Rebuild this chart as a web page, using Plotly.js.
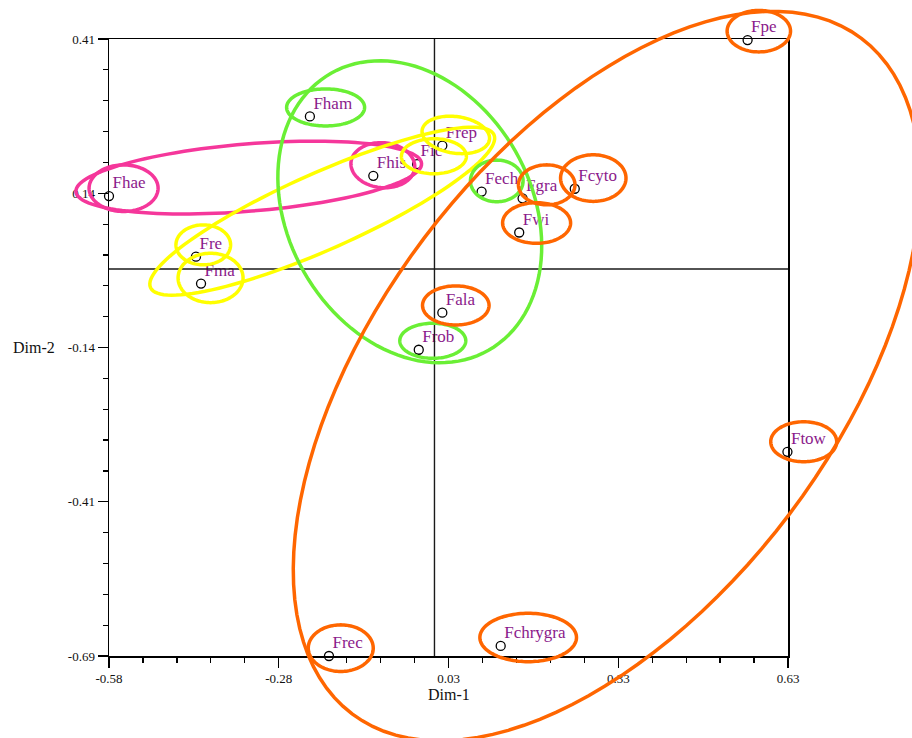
<!DOCTYPE html>
<html>
<head>
<meta charset="utf-8">
<script src="https://cdn.plot.ly/plotly-3.0.1.min.js"></script>
<style>
  html, body { margin: 0; padding: 0; background: #ffffff; }
  #chart { width: 912px; height: 738px; }
</style>
</head>
<body>
<div id="chart"></div>
<script>
// Taxa coordinates on the first two dimensions
const taxa = ['Fpe', 'Fham', 'Frep', 'Fic', 'Fhis', 'Fhae', 'Fech', 'Fgra', 'Fcyto',
              'Fwi', 'Fre', 'Fma', 'Fala', 'Frob', 'Ftow', 'Frec', 'Fchrygra'];
const dim1 = [0.558, -0.222, 0.014, -0.031, -0.109, -0.580, 0.084, 0.157, 0.250,
              0.151, -0.425, -0.416, 0.014, -0.028, 0.629, -0.188, 0.118];
const dim2 = [0.408, 0.272, 0.220, 0.187, 0.166, 0.130, 0.138, 0.126, 0.143,
              0.065, 0.022, -0.026, -0.078, -0.144, -0.326, -0.690, -0.672];

// Axis ticks
const xTickVals = [-0.58, -0.2775, 0.025, 0.3275, 0.63];
const xTickText = ['-0.58', '-0.28', '0.03', '0.33', '0.63'];
const yTickVals = [-0.69, -0.415, -0.14, 0.135, 0.41];
const yTickText = ['-0.69', '-0.41', '-0.14', '0.14', '0.41'];

// Group outlines: [centre dim1, centre dim2, semi-axis a, semi-axis b, angle in degrees]
const orangeRings = [
  [0.307, -0.191, 0.754, 0.408, 53],
  [0.578, 0.424, 0.0565, 0.037, 0],
  [0.283, 0.162, 0.0583, 0.0415, 0],
  [0.200, 0.150, 0.0504, 0.0356, 0],
  [0.182, 0.082, 0.0606, 0.0362, 0],
  [0.038, -0.065, 0.0593, 0.0348, 0],
  [0.658, -0.308, 0.0588, 0.0356, 0],
  [-0.167, -0.676, 0.0579, 0.0415, 0],
  [0.167, -0.657, 0.0861, 0.0431, 0]
];
const greenRings = [
  [-0.044, 0.102, 0.284, 0.217, 119.6],
  [-0.194, 0.288, 0.0695, 0.033, 0],
  [0.111, 0.157, 0.0469, 0.0371, 0],
  [-0.003, -0.128, 0.0588, 0.0312, 0]
];
const yellowRings = [
  [-0.200, 0.103, 0.335, 0.068, 24],
  [0.038, 0.239, 0.0606, 0.0326, -8],
  [-0.001, 0.201, 0.0579, 0.0312, 0],
  [-0.412, 0.043, 0.0487, 0.0356, 0],
  [-0.399, -0.016, 0.0579, 0.044, 0]
];
const pinkRings = [
  [-0.331, 0.163, 0.309, 0.060, 4.7],
  [-0.554, 0.144, 0.0615, 0.0415, 0],
  [-0.092, 0.185, 0.057, 0.040, -5]
];

const X_RANGE = [-0.58, 0.63];
const Y_RANGE = [-0.69, 0.41];
const SERIF = '"Liberation Serif", "Times New Roman", serif';

// Convert data units to paper units so outlines may extend past the frame
function toPaperX(v) { return (v - X_RANGE[0]) / (X_RANGE[1] - X_RANGE[0]); }
function toPaperY(v) { return (v - Y_RANGE[0]) / (Y_RANGE[1] - Y_RANGE[0]); }

function ringShape(r, color) {
  const [cx, cy, a, b, ang] = r;
  const t = ang * Math.PI / 180;
  const steps = 120;
  let d = '';
  for (let i = 0; i <= steps; i++) {
    const u = 2 * Math.PI * i / steps;
    const ex = a * Math.cos(u), ey = b * Math.sin(u);
    const x = cx + ex * Math.cos(t) - ey * Math.sin(t);
    const y = cy + ex * Math.sin(t) + ey * Math.cos(t);
    d += (i === 0 ? 'M' : 'L') + toPaperX(x).toFixed(5) + ',' + toPaperY(y).toFixed(5);
  }
  d += 'Z';
  return {
    type: 'path', xref: 'paper', yref: 'paper', path: d, layer: 'above',
    line: { color: color, width: 3.5 }, fillcolor: 'rgba(0,0,0,0)'
  };
}

const shapes = [
  // zero lines
  { type: 'line', xref: 'x', yref: 'paper', x0: 0, x1: 0, y0: 0, y1: 1, layer: 'above',
    line: { color: '#1a1a1a', width: 1.4 } },
  { type: 'line', xref: 'paper', yref: 'y', x0: 0, x1: 1, y0: 0, y1: 0, layer: 'above',
    line: { color: '#1a1a1a', width: 1.4 } }
];
pinkRings.forEach(r => shapes.push(ringShape(r, '#f5379b')));
yellowRings.forEach(r => shapes.push(ringShape(r, '#ffff00')));
greenRings.forEach(r => shapes.push(ringShape(r, '#6aef35')));
orangeRings.forEach(r => shapes.push(ringShape(r, '#ff6600')));

// Open circle at each taxon
const points = {
  type: 'scatter',
  mode: 'markers',
  x: dim1,
  y: dim2,
  marker: { size: 9, color: '#ffffff', line: { color: '#000000', width: 1.3 } },
  cliponaxis: false,
  hoverinfo: 'skip'
};

// Taxon names, set just above and right of each circle
const labels = {
  type: 'scatter',
  mode: 'markers+text',
  x: dim1,
  y: dim2,
  text: taxa,
  textposition: 'top right',
  textfont: { family: SERIF, size: 17, color: '#8b1a8b' },
  marker: { size: 4, color: 'rgba(0,0,0,0)' },
  cliponaxis: false,
  hoverinfo: 'text'
};

const axisCommon = {
  showgrid: false,
  zeroline: false,
  showline: true,
  linecolor: '#000000',
  linewidth: 1.5,
  mirror: true,
  ticks: 'outside',
  ticklen: 10,
  tickwidth: 1.2,
  tickcolor: '#000000',
  tickfont: { family: SERIF, size: 13, color: '#111111' },
  tickmode: 'array'
};

const layout = {
  width: 912,
  height: 738,
  autosize: false,
  margin: { l: 109, r: 124, t: 39, b: 82, pad: 0 },
  paper_bgcolor: '#ffffff',
  plot_bgcolor: '#ffffff',
  showlegend: false,
  xaxis: Object.assign({}, axisCommon, {
    range: X_RANGE,
    tickvals: xTickVals,
    ticktext: xTickText,
    minor: { tickmode: 'linear', tick0: -0.58, dtick: 0.0605, ticks: 'outside',
             ticklen: 5, tickwidth: 1.2, tickcolor: '#000000' }
  }),
  yaxis: Object.assign({}, axisCommon, {
    range: Y_RANGE,
    tickvals: yTickVals,
    ticktext: yTickText,
    minor: { tickmode: 'linear', tick0: -0.69, dtick: 0.055, ticks: 'outside',
             ticklen: 5, tickwidth: 1.2, tickcolor: '#000000' }
  }),
  shapes: shapes,
  annotations: [
    { text: 'Dim-1', xref: 'paper', yref: 'paper', x: 0.5, y: -0.063,
      xanchor: 'center', yanchor: 'middle', showarrow: false,
      font: { family: SERIF, size: 16, color: '#111111' } },
    { text: 'Dim-2', xref: 'paper', yref: 'paper', x: -0.11, y: 0.5,
      xanchor: 'center', yanchor: 'middle', showarrow: false,
      font: { family: SERIF, size: 16, color: '#111111' } }
  ]
};

Plotly.newPlot('chart', [points, labels], layout, { displayModeBar: false, staticPlot: true });
</script>
</body>
</html>
